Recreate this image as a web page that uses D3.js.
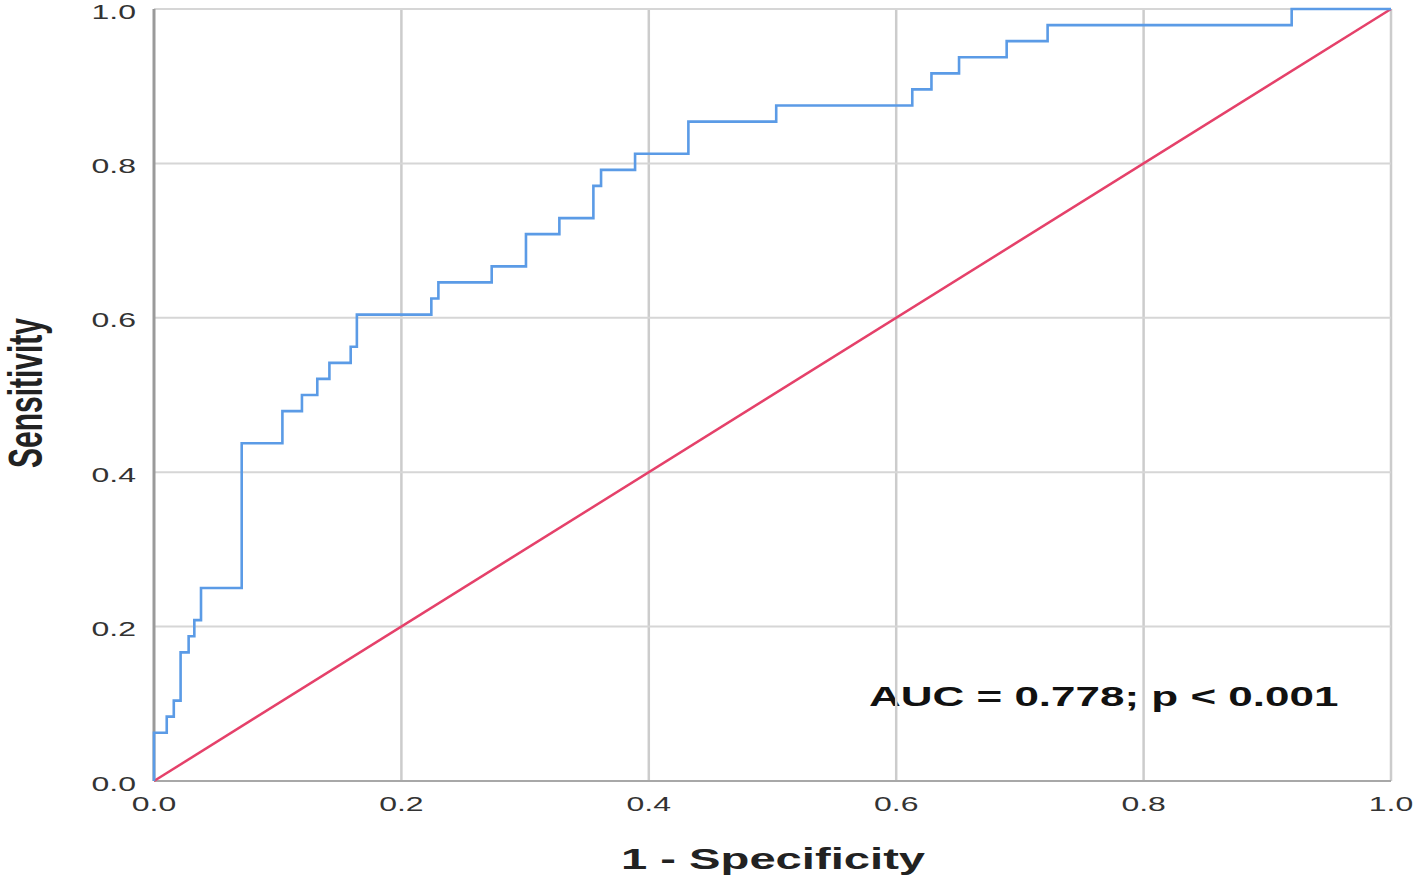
<!DOCTYPE html>
<html>
<head>
<meta charset="utf-8">
<script src="https://cdn.jsdelivr.net/npm/d3@7"></script>
<style>
  body { margin: 0; background: #fff; }
  text { font-family: Arial, "Liberation Sans", sans-serif; }
</style>
</head>
<body>
<div id="vis"></div>
<script>
// ROC corner points: 1 - specificity and number of positives detected (out of 48)
const fpr = [0, 0, 0.0103, 0.016, 0.0215, 0.028, 0.0326, 0.038, 0.0709, 0.1038, 0.1196, 0.132,
  0.1418, 0.159, 0.164, 0.2242, 0.2299, 0.273, 0.3007, 0.3277, 0.3552, 0.3614, 0.3889, 0.432,
  0.503, 0.613, 0.6285, 0.6508, 0.6893, 0.7224, 0.9197, 1];
const tpCount = [0, 3, 4, 5, 8, 9, 10, 12, 21, 23, 24, 25,
  26, 27, 29, 30, 31, 32, 34, 35, 37, 38, 39, 41,
  42, 43, 44, 45, 46, 47, 48, 48];
const positives = 48;
const ticks = [0, 0.2, 0.4, 0.6, 0.8, 1.0];
const aucLabel = "AUC = 0.778; p < 0.001";

const width = 1416, height = 880;
const stretch = 1.6; // the source image is stretched sideways

const x = d3.scaleLinear().domain([0, 1]).range([154, 1391]);
const y = d3.scaleLinear().domain([0, 1]).range([781, 9]);

const svg = d3.select("div#vis").append("svg")
  .attr("width", width).attr("height", height);

const wideText = (tx, ty, str, size, weight, anchor) =>
  svg.append("text")
    .attr("transform", `translate(${tx},${ty}) scale(${stretch},1)`)
    .attr("text-anchor", anchor)
    .attr("font-size", size)
    .attr("font-weight", weight)
    .attr("fill", "#222")
    .text(str);

// annotation sits under the grid
wideText(x(0.578), 706, aucLabel, 27.5, "bold", "start").attr("fill", "#111");

// grid
svg.selectAll("line.vgrid").data(ticks.slice(1)).enter()
  .append("line").attr("class", "vgrid")
  .attr("x1", d => x(d)).attr("x2", d => x(d))
  .attr("y1", y(1)).attr("y2", y(0))
  .attr("stroke", "#cccccc").attr("stroke-width", 2.5);

svg.selectAll("line.hgrid").data(ticks.slice(1)).enter()
  .append("line").attr("class", "hgrid")
  .attr("x1", x(0)).attr("x2", x(1))
  .attr("y1", d => y(d)).attr("y2", d => y(d))
  .attr("stroke", "#d6d6d6").attr("stroke-width", 2);

// axis lines
svg.append("line").attr("x1", x(0)).attr("x2", x(1)).attr("y1", y(0)).attr("y2", y(0))
  .attr("stroke", "#a8a8a8").attr("stroke-width", 2);
svg.append("line").attr("x1", x(0)).attr("x2", x(0)).attr("y1", y(1)).attr("y2", y(0))
  .attr("stroke", "#9a9a9a").attr("stroke-width", 3);

// tick labels
ticks.forEach(t => {
  wideText(x(t), 811, t.toFixed(1), 20, "normal", "middle").attr("fill", "#333");
  wideText(136, y(t) + 9.5, t.toFixed(1), 20, "normal", "end").attr("fill", "#333");
});

// axis titles
wideText(773, 869, "1 - Specificity", 29.5, "bold", "middle");
svg.append("text")
  .attr("transform", `translate(42,393) scale(${stretch},1) rotate(-90)`)
  .attr("text-anchor", "middle")
  .attr("font-size", 30)
  .attr("font-weight", "bold")
  .attr("fill", "#222")
  .text("Sensitivity");

// reference diagonal
svg.append("line")
  .attr("x1", x(0)).attr("y1", y(0)).attr("x2", x(1)).attr("y2", y(1))
  .attr("stroke", "#e5416a").attr("stroke-width", 2.5);

// ROC step curve
const rocPoints = fpr.map((f, i) => [f, tpCount[i] / positives]);
const rocLine = d3.line()
  .x(d => x(d[0]))
  .y(d => y(d[1]))
  .curve(d3.curveStepAfter);

svg.append("path")
  .datum(rocPoints)
  .attr("d", rocLine)
  .attr("fill", "none")
  .attr("stroke", "#5b9be6")
  .attr("stroke-width", 2.6);
</script>
</body>
</html>
